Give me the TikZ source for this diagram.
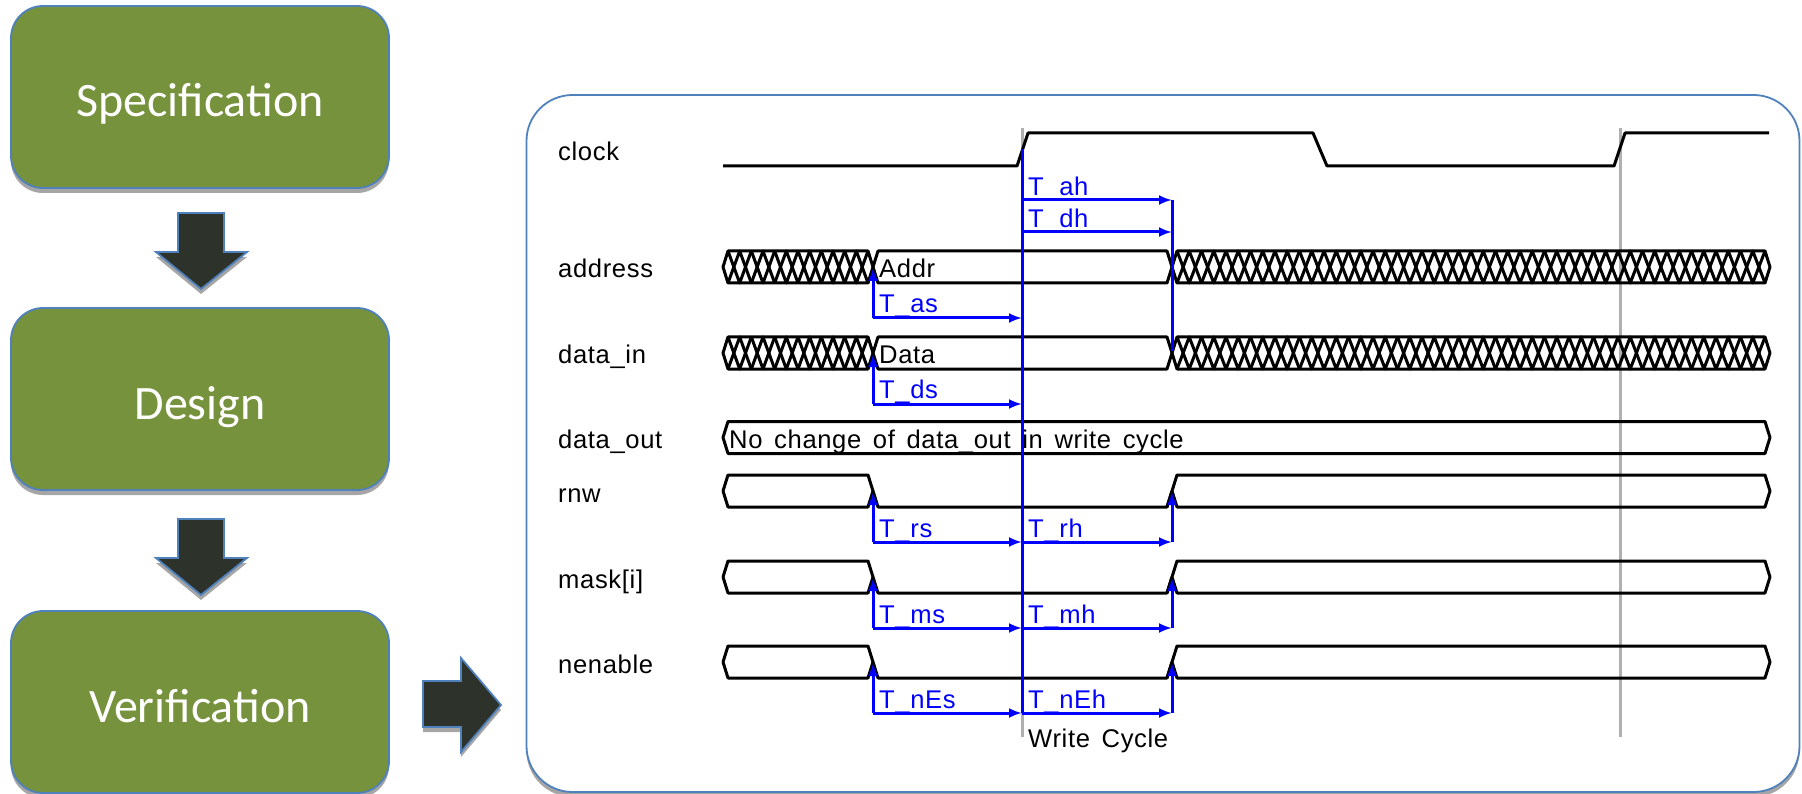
\documentclass[tikz,border=0pt]{standalone}
\usepackage{xcolor}
\usepackage{fontspec}
\setmainfont[LetterSpace=2.5,WordSpace=1.5]{Liberation Sans}
\newfontfamily\stagefont{Carlito}
\usetikzlibrary{calc,arrows.meta,shadows}
\definecolor{StageGreen}{RGB}{118,146,60}
\definecolor{StageEdge}{RGB}{79,129,189}
\definecolor{ArrowDark}{RGB}{45,50,43}
\definecolor{ShadowGray}{RGB}{166,166,166}
\definecolor{CursorGray}{RGB}{176,176,176}
\definecolor{TimeBlue}{RGB}{0,0,255}
\tikzset{
  softshadow/.style={drop shadow={shadow xshift=0pt,shadow yshift=-5pt,fill=ShadowGray,opacity=1}},
  stagebox/.style={rectangle,rounded corners=32pt,draw=StageEdge,line width=1.8pt,fill=StageGreen,
    minimum width=378pt,minimum height=182pt,text=white,softshadow,text height=48pt,text depth=8pt,
    font=\stagefont\fontsize{48}{54}\selectfont},
  blockarrow/.style={draw=StageEdge,line width=1.8pt,fill=ArrowDark,softshadow},
  panelbox/.style={rectangle,rounded corners=46pt,draw=StageEdge,line width=1.8pt,fill=white,
    minimum width=1273pt,minimum height=697pt,softshadow},
  wave/.style={black,line width=3pt,line join=round},
  cursor/.style={CursorGray,line width=3pt},
  tick/.style={TimeBlue,line width=3pt},
  timearrow/.style={tick,-{Latex[length=13pt,width=10pt]}},
  sig/.style={anchor=base west,inner sep=0pt,font=\fontsize{25.6}{30}\selectfont},
  tim/.style={sig,text=TimeBlue},
}
% hexagon of a bus value: x start, x end, y centre
\newcommand{\busval}[3]{
  \draw[wave] (#1,#3) -- (#1+5,#3-16) -- (#2-5,#3-16) -- (#2,#3) -- (#2-5,#3+16) -- (#1+5,#3+16) -- cycle;
}
% bus with unknown value: x start, x end, y centre, zigzags
\newcommand{\busx}[4]{
  \busval{#1}{#2}{#3}
  \pgfmathsetmacro{\pitch}{(#2-#1-10)/#4}
  \foreach \i in {1,...,#4} {
    \pgfmathsetmacro{\xa}{#1+5+(\i-1)*\pitch}
    \draw[wave] (\xa,#3-16) -- (\xa+\pitch/2,#3+16) -- (\xa+\pitch,#3-16);
    \draw[wave] (\xa,#3+16) -- (\xa+\pitch/2,#3-16) -- (\xa+\pitch,#3+16);
  }
}
\begin{document}
\begin{tikzpicture}[x=1pt,y=-1pt]
  \useasboundingbox (0,0) rectangle (1802,794);

  % Flow on the left
  \node[stagebox] (spec) at (200,97) {Specification};
  \node[stagebox] (design) at (200,399) {Design};
  \node[stagebox] (verif) at (200,702) {Verification};
  \foreach \y in {0,306} {
    \path[blockarrow] (178,213+\y) -- (224,213+\y) -- (224,252+\y) -- (247,252+\y) -- (201,289+\y)
      -- (156,252+\y) -- (178,252+\y) -- cycle;
  }
  \path[blockarrow] (423,681) -- (461,681) -- (461,658) -- (501,705) -- (461,752) -- (461,727) -- (423,727) -- cycle;

  % Panel with the waves
  \node[panelbox] (panel) at (1163,443.5) {};

  % Cursors
  \coordinate (curAtop) at (1022,128);
  \coordinate (curAbot) at (1022,737);
  \coordinate (curBtop) at (1620,128);
  \coordinate (curBbot) at (1620,737);
  \draw[cursor] (curAtop) -- (curAbot);
  \draw[cursor] (curBtop) -- (curBbot);

  % clock
  \draw[wave] (723,166) -- (1017,166) -- (1028,133) -- (1313,133) -- (1327,166) -- (1614,166)
    -- (1625,133) -- (1769,133);
  \node[sig] (lclock) at (558,161) {clock};

  % address and data_in
  \foreach \y/\lab/\val in {267/address/Addr,353/data\_in/Data} {
    \busx{723}{873}{\y}{6}
    \busval{873}{1172}{\y}
    \busx{1172}{1770}{\y}{24}
    \node[sig] (l\val) at (558,\y+10.5) {\lab};
    \node[sig] (v\val) at (879,\y+10.5) {\val};
  }

  % data_out
  \busval{723}{1770}{437.5}
  \node[sig] (lout) at (558,448.5) {data\_out};
  \node[sig] (vout) at (729,448.5) {No change of data\_out in write cycle};

  % rnw, mask, nenable
  \foreach \y/\lab/\t in {491/rnw/r,577/{mask[i]}/m,662/nenable/nE} {
    \draw[wave] (723,\y) -- (728,\y-16) -- (868,\y-16) -- (878,\y+16) -- (1167,\y+16) -- (1177,\y-16)
      -- (1765,\y-16) -- (1770,\y) -- (1765,\y+16) -- (1177,\y+16) -- (1172,\y);
    \draw[wave] (723,\y) -- (728,\y+16) -- (868,\y+16) -- (873,\y);
    \draw[wave] (1172,\y) -- (1167,\y+16);
    \node[sig] (l\t) at (558,\y+11.5) {\lab};
    \coordinate (\t sA) at (873,\y+1);
    \coordinate (\t sB) at (873,\y+51);
    \coordinate (\t m) at (1022,\y+51);
    \coordinate (\t hA) at (1172,\y+1);
    \coordinate (\t hB) at (1172,\y+51);
    \draw[timearrow] (\t sB) -- (\t sA);
    \draw[timearrow] (\t hB) -- (\t hA);
    \draw[timearrow] (\t sB) -- (\t m);
    \draw[timearrow] (\t m) -- (\t hB);
    \node[tim] (\t s) at (879,\y+46) {T\_\t s};
    \node[tim] (\t h) at (1028,\y+46) {T\_\t h};
  }

  % Setup of address and data_in
  \foreach \y/\t in {267/a,353/d} {
    \coordinate (\t sA) at (873,\y+1);
    \coordinate (\t sB) at (873,\y+51);
    \coordinate (\t m) at (1022,\y+51);
    \draw[timearrow] (\t sB) -- (\t sA);
    \draw[timearrow] (\t sB) -- (\t m);
    \node[tim] (\t s) at (879,\y+45.5) {T\_\t s};
  }

  % Hold of address and data_in
  \coordinate (ahA) at (1022,200);
  \coordinate (ahB) at (1172,200);
  \coordinate (dhA) at (1022,232);
  \coordinate (dhB) at (1172,232);
  \coordinate (holdEnd) at (1172,351);
  \draw[tick] (ahB) -- (holdEnd);
  \draw[timearrow] (ahA) -- (ahB);
  \draw[timearrow] (dhA) -- (dhB);
  \node[tim] (ah) at (1028,195.5) {T\_ah};
  \node[tim] (dh) at (1028,227.5) {T\_dh};

  % Edge of the write cycle
  \coordinate (edgeTop) at (1022,149);
  \coordinate (edgeBot) at (1022,713);
  \draw[tick] (edgeTop) -- (edgeBot);
  \node[sig] (cycle) at (1028,747.5) {Write Cycle};
\end{tikzpicture}
\end{document}
